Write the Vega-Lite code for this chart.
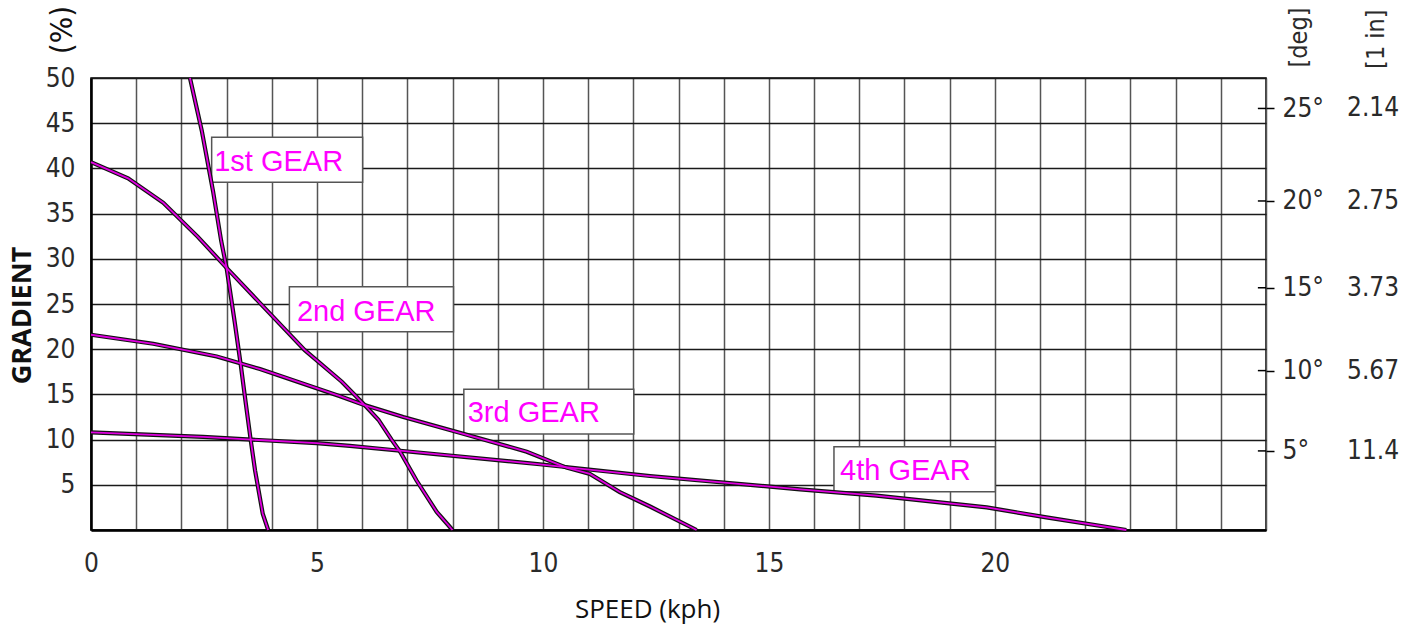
{
  "$schema": "https://vega.github.io/schema/vega-lite/v6.json",
  "width": 1175,
  "height": 452,
  "autosize": {"type": "none"},
  "padding": {"left": 91, "top": 78, "right": 147, "bottom": 104},
  "background": "white",
  "config": {
    "view": {"stroke": "black", "strokeWidth": 1.5},
    "axis": {
      "labelFont": "Liberation Sans Narrow, DejaVu Sans Condensed, sans-serif",
      "labelFontSize": 26,
      "labelColor": "#2a2a2a",
      "titleFont": "Open Sans, sans-serif",
      "titleColor": "#111111"
    }
  },
  "datasets": {
    "lines": [
      {"g": "1st", "s": 2.19, "p": 50},
      {"g": "1st", "s": 2.45, "p": 44.2},
      {"g": "1st", "s": 2.7, "p": 37.5},
      {"g": "1st", "s": 2.88, "p": 32},
      {"g": "1st", "s": 3.0, "p": 29.0},
      {"g": "1st", "s": 3.18, "p": 23},
      {"g": "1st", "s": 3.31, "p": 18.4},
      {"g": "1st", "s": 3.42, "p": 14.2},
      {"g": "1st", "s": 3.53, "p": 10.1},
      {"g": "1st", "s": 3.63, "p": 6.6},
      {"g": "1st", "s": 3.8, "p": 1.8},
      {"g": "1st", "s": 3.92, "p": 0},
      {"g": "2nd", "s": 0, "p": 40.7},
      {"g": "2nd", "s": 0.82, "p": 38.9},
      {"g": "2nd", "s": 1.6, "p": 36.2},
      {"g": "2nd", "s": 2.37, "p": 32.4},
      {"g": "2nd", "s": 3.0, "p": 29.0},
      {"g": "2nd", "s": 3.74, "p": 25.1},
      {"g": "2nd", "s": 4.73, "p": 19.9},
      {"g": "2nd", "s": 5.55, "p": 16.4},
      {"g": "2nd", "s": 6.06, "p": 13.8},
      {"g": "2nd", "s": 6.36, "p": 12.2},
      {"g": "2nd", "s": 6.65, "p": 10.0},
      {"g": "2nd", "s": 6.84, "p": 8.66},
      {"g": "2nd", "s": 7.2, "p": 5.5},
      {"g": "2nd", "s": 7.65, "p": 2.0},
      {"g": "2nd", "s": 8.0, "p": 0},
      {"g": "3rd", "s": 0, "p": 21.6},
      {"g": "3rd", "s": 1.38, "p": 20.6},
      {"g": "3rd", "s": 2.78, "p": 19.2},
      {"g": "3rd", "s": 3.74, "p": 17.8},
      {"g": "3rd", "s": 4.16, "p": 17.1},
      {"g": "3rd", "s": 5.51, "p": 14.8},
      {"g": "3rd", "s": 6.0, "p": 13.9},
      {"g": "3rd", "s": 6.91, "p": 12.5},
      {"g": "3rd", "s": 8.2, "p": 10.7},
      {"g": "3rd", "s": 9.64, "p": 8.66},
      {"g": "3rd", "s": 10.52, "p": 6.9},
      {"g": "3rd", "s": 11.04, "p": 6.2},
      {"g": "3rd", "s": 11.7, "p": 4.2},
      {"g": "3rd", "s": 12.37, "p": 2.6},
      {"g": "3rd", "s": 13.4, "p": 0},
      {"g": "4th", "s": 0, "p": 10.8},
      {"g": "4th", "s": 2.48, "p": 10.3},
      {"g": "4th", "s": 4.99, "p": 9.6},
      {"g": "4th", "s": 5.73, "p": 9.3},
      {"g": "4th", "s": 6.84, "p": 8.77},
      {"g": "4th", "s": 9.93, "p": 7.27},
      {"g": "4th", "s": 12.37, "p": 5.97},
      {"g": "4th", "s": 15.69, "p": 4.5},
      {"g": "4th", "s": 17.38, "p": 3.8},
      {"g": "4th", "s": 19.82, "p": 2.5},
      {"g": "4th", "s": 21.14, "p": 1.4},
      {"g": "4th", "s": 22.91, "p": 0}
    ],
    "boxes": [
      {"label": "1st GEAR", "x": 2.67, "x2": 6.01, "y": 43.44, "y2": 38.46, "tx": 2.77, "ty": 40.7},
      {"label": "2nd GEAR", "x": 4.39, "x2": 8.02, "y": 26.91, "y2": 21.94, "tx": 4.6, "ty": 24.1},
      {"label": "3rd GEAR", "x": 8.25, "x2": 12.01, "y": 15.56, "y2": 10.62, "tx": 8.38, "ty": 12.94},
      {"label": "4th GEAR", "x": 16.44, "x2": 20.01, "y": 9.21, "y2": 4.24, "tx": 16.62, "ty": 6.58}
    ],
    "ratios": [
      {"deg": 25, "pct": 46.631, "ratio": "2.14"},
      {"deg": 20, "pct": 36.397, "ratio": "2.75"},
      {"deg": 15, "pct": 26.795, "ratio": "3.73"},
      {"deg": 10, "pct": 17.633, "ratio": "5.67"},
      {"deg": 5, "pct": 8.749, "ratio": "11.4"}
    ]
  },
  "layer": [
    {
      "data": {"name": "boxes"},
      "mark": {"type": "rect", "fill": "white", "stroke": "#555555", "strokeWidth": 1.5},
      "encoding": {
        "x": {
          "field": "x", "type": "quantitative",
          "scale": {"domain": [0, 26], "nice": false, "zero": false},
          "axis": {
            "values": [0,1,2,3,4,5,6,7,8,9,10,11,12,13,14,15,16,17,18,19,20,21,22,23,24,25,26],
            "labelExpr": "(datum.value % 5 == 0 && datum.value <= 20) ? datum.label : ''",
            "ticks": false,
            "labelPadding": 20,
            "labelFlush": false,
            "grid": true,
            "gridColor": "#555555",
            "gridWidth": 1.5,
            "domain": true,
            "domainColor": "black",
            "domainWidth": 2.5,
            "title": "SPEED (kph)",
            "titleFontSize": 26,
            "titleFontWeight": "normal",
            "titleX": 556,
            "titleY": 87,
            "titleBaseline": "alphabetic",
            "titleAlign": "center"
          }
        },
        "x2": {"field": "x2"},
        "y": {
          "field": "y", "type": "quantitative",
          "scale": {"domain": [0, 50], "nice": false, "zero": false},
          "axis": {
            "orient": "left",
            "values": [0,5,10,15,20,25,30,35,40,45,50],
            "labelExpr": "datum.value == 0 ? '' : datum.label",
            "ticks": false,
            "labelPadding": 16,
            "grid": true,
            "gridColor": "#1a1a1a",
            "gridWidth": 1.3,
            "domain": true,
            "domainColor": "black",
            "domainWidth": 2.5,
            "title": "GRADIENT",
            "titleFontSize": 27,
            "titleFontWeight": "bold",
            "titleAngle": 270,
            "titleX": -69,
            "titleY": 237,
            "titleAlign": "center",
            "titleBaseline": "middle"
          }
        },
        "y2": {"field": "y2"}
      }
    },
    {
      "data": {"name": "lines"},
      "mark": {"type": "line", "color": "#111111", "strokeWidth": 4.2},
      "encoding": {
        "x": {"field": "s", "type": "quantitative"},
        "y": {"field": "p", "type": "quantitative", "axis": null},
        "detail": {"field": "g"}
      }
    },
    {
      "data": {"name": "lines"},
      "mark": {"type": "line", "color": "#e000e0", "strokeWidth": 1.8},
      "encoding": {
        "x": {"field": "s", "type": "quantitative"},
        "y": {"field": "p", "type": "quantitative", "axis": null},
        "detail": {"field": "g"}
      }
    },
    {
      "data": {"name": "boxes"},
      "mark": {"type": "text", "font": "Liberation Sans, Arial, sans-serif", "fontSize": 29, "color": "#ff00ff", "align": "left", "baseline": "middle", "dx": -2},
      "encoding": {
        "x": {"field": "tx", "type": "quantitative"},
        "y": {"field": "ty", "type": "quantitative", "axis": null},
        "text": {"field": "label"}
      }
    },
    {
      "data": {"name": "ratios"},
      "mark": {"type": "rule", "color": "black", "strokeWidth": 1.5},
      "encoding": {
        "x": {"datum": 25.82},
        "x2": {"datum": 26},
        "y": {
          "field": "pct", "type": "quantitative",
          "axis": {
            "orient": "right",
            "values": [8.749, 17.633, 26.795, 36.397, 46.631],
            "labelExpr": "round(atan(datum.value/100)*180/PI) + '°'",
            "ticks": true,
            "tickSize": 8,
            "tickColor": "black",
            "tickWidth": 1.5,
            "labelPadding": 8,
            "labelAlign": "left",
            "grid": false,
            "domain": false,
            "title": "[deg]",
            "titleFont": "Liberation Sans Narrow, DejaVu Sans Condensed, sans-serif",
            "titleFontSize": 25,
            "titleFontWeight": "normal",
            "titleColor": "#2a2a2a",
            "titleAngle": 270,
            "titleX": 32,
            "titleY": -41,
            "titleAlign": "center",
            "titleBaseline": "middle"
          }
        }
      }
    },
    {
      "data": {"name": "ratios"},
      "mark": {"type": "text", "font": "Liberation Sans Narrow, DejaVu Sans Condensed, sans-serif", "fontSize": 26, "color": "#2a2a2a", "align": "left", "baseline": "middle", "dx": 81},
      "encoding": {
        "x": {"datum": 26},
        "y": {"field": "pct", "type": "quantitative", "axis": null},
        "text": {"field": "ratio"}
      }
    },
    {
      "data": {"values": [{"t": "[1 in]"}]},
      "mark": {"type": "text", "font": "Liberation Sans Narrow, DejaVu Sans Condensed, sans-serif", "fontSize": 25, "color": "#2a2a2a", "align": "center", "baseline": "middle", "angle": 270, "dy": 110},
      "encoding": {
        "x": {"datum": 26},
        "y": {"datum": 54.3, "axis": null},
        "text": {"field": "t"}
      }
    },
    {
      "data": {"values": [{"t": "(%)"}]},
      "mark": {"type": "text", "font": "Liberation Sans Narrow, DejaVu Sans Condensed, sans-serif", "fontSize": 31, "color": "#111111", "align": "center", "baseline": "middle", "angle": 270, "dy": -28},
      "encoding": {
        "x": {"datum": 0},
        "y": {"datum": 55.3, "axis": null},
        "text": {"field": "t"}
      }
    }
  ],
  "resolve": {"scale": {"y": "shared", "x": "shared"}, "axis": {"y": "independent"}}
}
